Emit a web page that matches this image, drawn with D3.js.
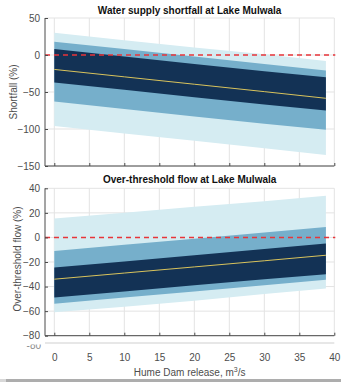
<!DOCTYPE html>
<html><head><meta charset="utf-8">
<script src="https://cdn.jsdelivr.net/npm/d3@7"></script>
<style>body{margin:0;background:#fff}svg{display:block}text{font-family:"Liberation Sans",Arial,sans-serif}</style>
</head><body><svg id="c" width="341" height="382"></svg>
<script>
// Data
const release = [0, 10, 20, 30, 38.8];
const xTicks = [0, 5, 10, 15, 20, 25, 30, 35, 40];

const shortOuterHi = [30, 20, 10, 1, -8];
const shortOuterLo = [-96, -106, -116, -126, -135];
const shortMidHi = [18, 8, -2, -12, -21];
const shortMidLo = [-63, -73, -83, -93, -101];
const shortInnerHi = [8, -2, -12, -22, -30];
const shortInnerLo = [-37, -47, -57, -67, -75];
const shortMedian = [-19.5, -29.5, -39.5, -49.5, -58.5];
const shortTicks = [-150, -100, -50, 0, 50];

const flowOuterHi = [15.5, 20, 25, 29.5, 34];
const flowOuterLo = [-61, -56.5, -51.5, -46, -41.5];
const flowMidHi = [-11, -6, -1, 4, 8.5];
const flowMidLo = [-54, -49, -44, -39, -34.5];
const flowInnerHi = [-24.5, -19.5, -14.5, -9.5, -5];
const flowInnerLo = [-49, -44, -39, -34, -30];
const flowMedian = [-34, -29, -24, -19, -14.5];
const flowTicks = [-80, -60, -40, -20, 0, 20, 40];

const svg = d3.select("#c");
const L = 45, R = 334.3;
const x = d3.scaleLinear().domain([-1.33, 40]).range([L, R]);

function panel(cfg){
  const y = d3.scaleLinear().domain(cfg.domain).range([cfg.bottom, cfg.top]);
  const g = svg.append("g");
  // grid
  g.selectAll(".gx").data(xTicks).join("line")
    .attr("x1", d=>x(d)).attr("x2", d=>x(d)).attr("y1", cfg.top).attr("y2", cfg.bottom)
    .attr("stroke", "#e3e3e3").attr("stroke-width", 1);
  g.selectAll(".gy").data(cfg.ticks).join("line")
    .attr("x1", L).attr("x2", R).attr("y1", d=>y(d)).attr("y2", d=>y(d))
    .attr("stroke", "#e3e3e3").attr("stroke-width", 1);
  const bands = [
    [cfg.outerHi, cfg.outerLo, "#d5ecf2"],
    [cfg.midHi, cfg.midLo, "#76afcb"],
    [cfg.innerHi, cfg.innerLo, "#133255"]
  ];
  bands.forEach(([hi, lo, col]) => {
    const area = d3.area().x((d,i)=>x(release[i])).y0((d,i)=>y(lo[i])).y1((d,i)=>y(hi[i]));
    g.append("path").datum(hi).attr("d", area).attr("fill", col);
  });
  const line = d3.line().x((d,i)=>x(release[i])).y(d=>y(d));
  g.append("path").datum(cfg.median).attr("d", line).attr("fill","none")
    .attr("stroke", "#d8c35c").attr("stroke-width", 1);
  g.append("line").attr("x1", L).attr("x2", R + 1).attr("y1", y(0)).attr("y2", y(0))
    .attr("stroke", "#e8353a").attr("stroke-width", 1.6).attr("stroke-dasharray", "5,4");
  // axes
  const ya = d3.axisLeft(y).tickValues(cfg.ticks).tickSize(-3).tickPadding(5);
  const yg = g.append("g").attr("transform", `translate(${L},0)`).call(ya);
  yg.select(".domain").attr("d", `M0,${cfg.top}V${cfg.bottom}`).attr("stroke", "#4a4a4a");
  yg.selectAll(".tick line").attr("stroke", "#4a4a4a");
  yg.selectAll("text").attr("font-size", 10).attr("fill", "#4d4d4d");
  const xa = d3.axisBottom(x).tickValues(xTicks).tickSize(-3).tickFormat(cfg.xLabels ? d3.format("d") : "");
  const xg = g.append("g").attr("transform", `translate(0,${cfg.bottom})`).call(xa);
  xg.select(".domain").attr("d", `M${L},0H${R}`).attr("stroke", "#4a4a4a");
  xg.selectAll(".tick line").attr("stroke", "#4a4a4a");
  xg.selectAll("text").attr("font-size", 10).attr("fill", "#4d4d4d").attr("dy", null).attr("y", 25);
  // title
  svg.append("text").attr("x", (L+R)/2).attr("y", cfg.titleY).attr("text-anchor","middle")
    .attr("font-size", 10).attr("font-weight","bold").attr("fill","#111").text(cfg.title);
  svg.append("text").attr("transform", `translate(${cfg.ylabX},${cfg.ylabY}) rotate(-90)`)
    .attr("text-anchor","middle").attr("font-size", 10).attr("fill","#4d4d4d").text(cfg.ylab);
  return y;
}

panel({domain:[-150,50], top:18, bottom:166, ticks:shortTicks,
  outerHi:shortOuterHi, outerLo:shortOuterLo, midHi:shortMidHi, midLo:shortMidLo,
  innerHi:shortInnerHi, innerLo:shortInnerLo, median:shortMedian,
  title:"Water supply shortfall at Lake Mulwala", titleY:14, ylab:"Shortfall (%)", ylabX:17, ylabY:92, xLabels:false});

panel({domain:[-80,40], top:188.3, bottom:335.7, ticks:flowTicks,
  outerHi:flowOuterHi, outerLo:flowOuterLo, midHi:flowMidHi, midLo:flowMidLo,
  innerHi:flowInnerHi, innerLo:flowInnerLo, median:flowMedian,
  title:"Over-threshold flow at Lake Mulwala", titleY:183, ylab:"Over-threshold flow (%)", ylabX:21, ylabY:259, xLabels:true});

// ghost axis line and clipped label below lower panel
svg.append("line").attr("x1", L).attr("x2", R).attr("y1", 343).attr("y2", 343).attr("stroke", "#cfcfcf");
svg.append("clipPath").attr("id","gc").append("rect").attr("x",20).attr("y",344.5).attr("width",30).attr("height",4.5);
svg.append("text").attr("x", 41).attr("y", 349).attr("text-anchor","end").attr("font-size",10)
  .attr("fill","#8a8a8a").attr("clip-path","url(#gc)").text("-80");

// x label
const xl = svg.append("text").attr("x", (L+R)/2).attr("y", 376).attr("text-anchor","middle")
  .attr("font-size", 10).attr("fill","#4d4d4d");
xl.append("tspan").text("Hume Dam release, m");
xl.append("tspan").attr("font-size", 7).attr("dy", -4).text("3");
xl.append("tspan").attr("dy", 4).text("/s");

svg.append("rect").attr("x", 0).attr("y", 379).attr("width", 341).attr("height", 3).attr("fill", "#adadad");
svg.append("rect").attr("x", 0).attr("y", 379).attr("width", 6).attr("height", 3).attr("fill", "#d8d8d8");
</script></body></html>
